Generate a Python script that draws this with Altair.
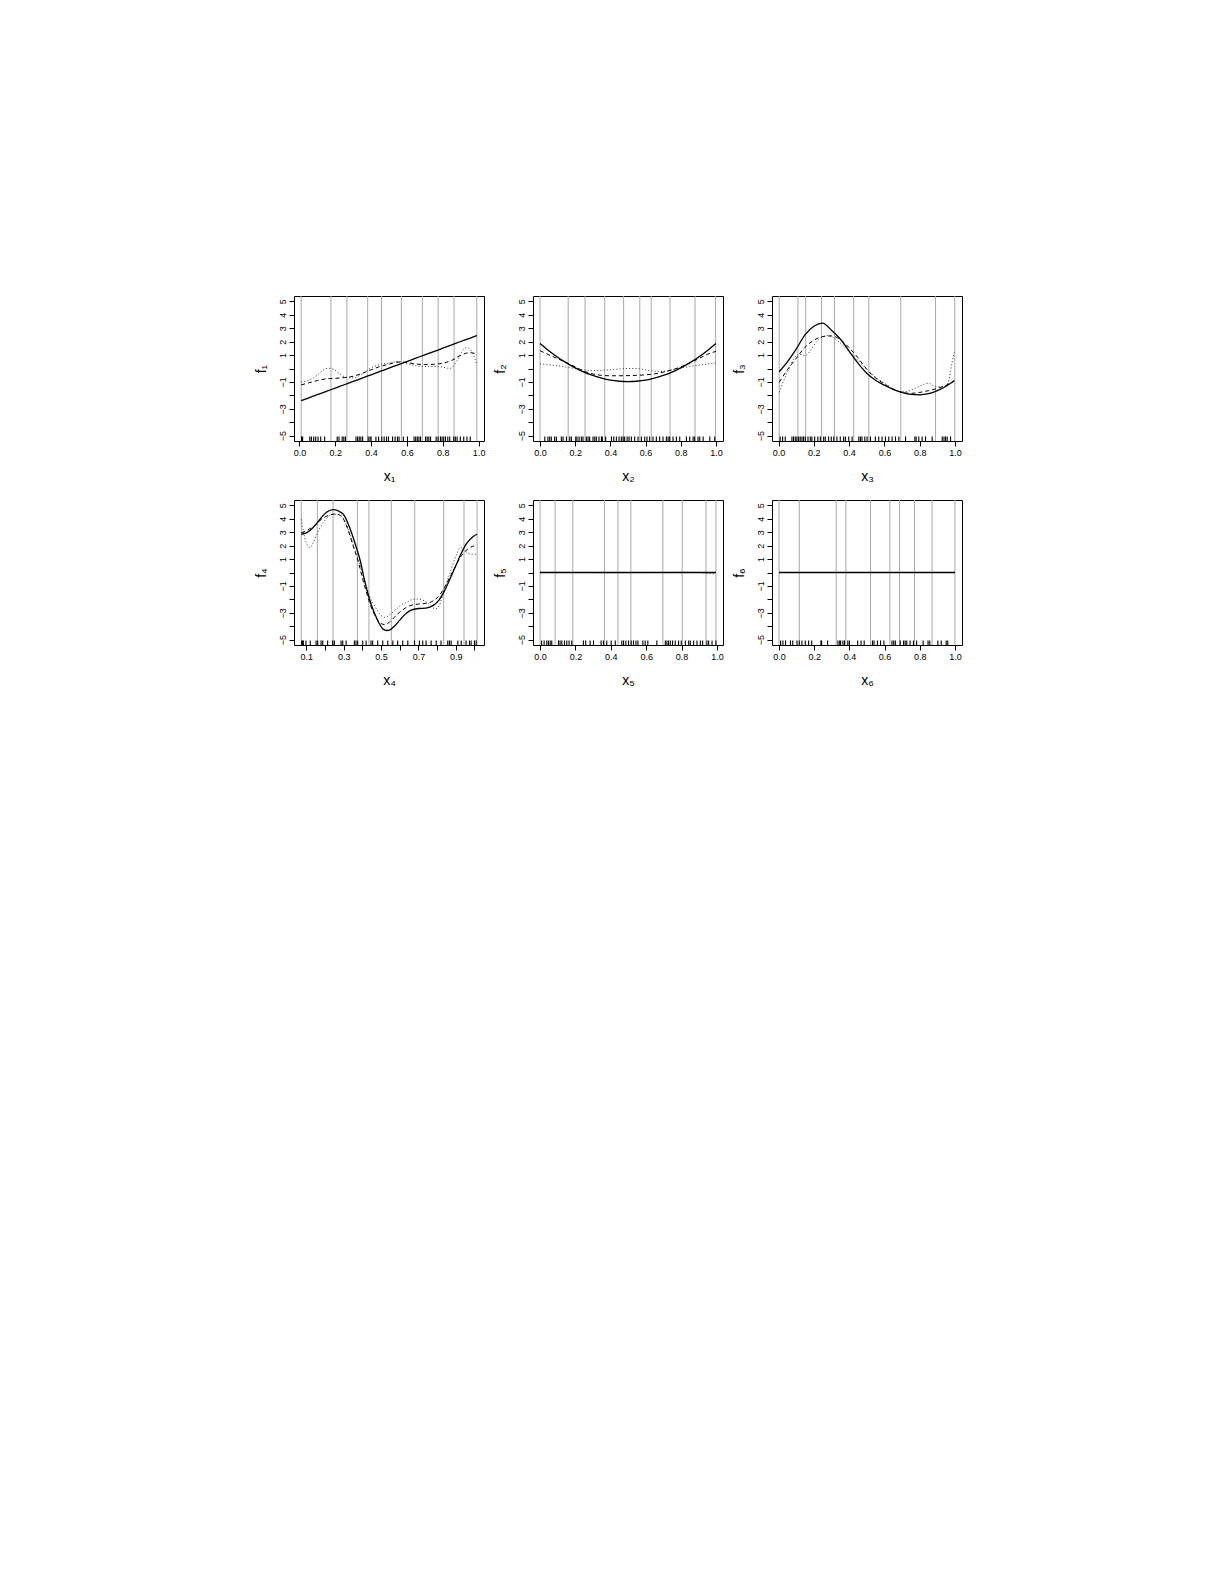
import altair as alt
import pandas as pd

# ---------------- data ----------------
# grey vertical lines (knots) per panel
knots1 = [0.01, 0.176, 0.265, 0.381, 0.458, 0.569, 0.686, 0.774, 0.863, 0.99]
knots2 = [0.0, 0.16, 0.256, 0.368, 0.475, 0.567, 0.632, 0.739, 0.881, 0.997]
knots3 = [0.004, 0.11, 0.154, 0.244, 0.317, 0.426, 0.512, 0.693, 0.89, 0.999]
knots4 = [0.073, 0.159, 0.243, 0.373, 0.435, 0.555, 0.68, 0.835, 0.944, 1.014]
knots5 = [0.0, 0.085, 0.185, 0.364, 0.44, 0.513, 0.694, 0.804, 0.938, 0.994]
knots6 = [0.0, 0.115, 0.325, 0.38, 0.52, 0.63, 0.685, 0.77, 0.87, 1.0]

# rug (observed covariate values)
rug1 = [0.012, 0.018, 0.058, 0.067, 0.08, 0.091, 0.104, 0.119, 0.141, 0.211, 0.221, 0.239, 0.248,
        0.257, 0.316, 0.325, 0.334, 0.343, 0.353, 0.384, 0.394, 0.4, 0.427, 0.442, 0.46, 0.473,
        0.486, 0.497, 0.52, 0.534, 0.547, 0.556, 0.58, 0.603, 0.64, 0.649, 0.658, 0.667, 0.676,
        0.704, 0.713, 0.722, 0.732, 0.763, 0.774, 0.787, 0.796, 0.805, 0.815, 0.828, 0.839,
        0.861, 0.87, 0.88, 0.898, 0.917, 0.935, 0.953]
rug2 = [0.027, 0.045, 0.055, 0.064, 0.083, 0.093, 0.121, 0.131, 0.15, 0.169, 0.178, 0.203, 0.21,
        0.222, 0.235, 0.244, 0.263, 0.273, 0.282, 0.301, 0.311, 0.32, 0.335, 0.349, 0.354, 0.373,
        0.406, 0.419, 0.434, 0.449, 0.462, 0.472, 0.481, 0.495, 0.506, 0.519, 0.538, 0.557,
        0.576, 0.595, 0.608, 0.623, 0.642, 0.661, 0.68, 0.699, 0.718, 0.728, 0.737, 0.756,
        0.775, 0.794, 0.832, 0.851, 0.87, 0.879, 0.898, 0.908, 0.927, 0.965, 0.993]
rug3 = [0.009, 0.023, 0.038, 0.076, 0.085, 0.095, 0.104, 0.114, 0.123, 0.133, 0.142, 0.152, 0.167,
        0.18, 0.189, 0.205, 0.223, 0.237, 0.256, 0.265, 0.284, 0.299, 0.313, 0.331, 0.35, 0.369,
        0.379, 0.398, 0.417, 0.455, 0.464, 0.473, 0.489, 0.502, 0.521, 0.549, 0.568, 0.587,
        0.606, 0.625, 0.644, 0.663, 0.682, 0.72, 0.773, 0.78, 0.795, 0.814, 0.833, 0.871,
        0.928, 0.938, 0.947, 0.956, 0.975]
rug4 = [0.075, 0.08, 0.084, 0.098, 0.121, 0.152, 0.161, 0.179, 0.188, 0.214, 0.241, 0.25, 0.286,
        0.295, 0.313, 0.357, 0.366, 0.375, 0.402, 0.42, 0.446, 0.455, 0.482, 0.509, 0.536,
        0.563, 0.589, 0.616, 0.643, 0.679, 0.705, 0.723, 0.741, 0.768, 0.795, 0.821, 0.857,
        0.866, 0.875, 0.911, 0.929, 0.955, 0.973, 0.982, 1.0, 1.009]
rug5 = [0.009, 0.023, 0.038, 0.047, 0.057, 0.066, 0.104, 0.113, 0.123, 0.138, 0.151, 0.164, 0.179,
        0.245, 0.258, 0.283, 0.302, 0.345, 0.358, 0.377, 0.402, 0.425, 0.462, 0.472, 0.485, 0.5,
        0.515, 0.528, 0.542, 0.553, 0.581, 0.594, 0.609, 0.66, 0.708, 0.717, 0.726, 0.736,
        0.749, 0.764, 0.783, 0.798, 0.821, 0.84, 0.849, 0.868, 0.887, 0.906, 0.919, 0.943,
        0.953, 0.972, 0.994]
rug6 = [0.009, 0.022, 0.037, 0.065, 0.078, 0.102, 0.115, 0.13, 0.149, 0.168, 0.186, 0.238, 0.242,
        0.276, 0.335, 0.345, 0.35, 0.363, 0.372, 0.391, 0.4, 0.447, 0.466, 0.484, 0.531, 0.54,
        0.559, 0.577, 0.596, 0.642, 0.652, 0.661, 0.689, 0.708, 0.717, 0.726, 0.745, 0.764,
        0.782, 0.819, 0.847, 0.857, 0.903, 0.922, 0.95, 0.959]

# curves: true function (solid), estimate A (dashed), estimate B (dotted)
grid1 = [0.01, 0.05, 0.10, 0.15, 0.20, 0.25, 0.30, 0.35, 0.40, 0.45, 0.50, 0.55, 0.60, 0.65,
         0.70, 0.75, 0.80, 0.85, 0.90, 0.95, 0.99]
true1 = [-2.40, -2.20, -1.95, -1.71, -1.46, -1.21, -0.96, -0.72, -0.47, -0.22, 0.03, 0.27, 0.52,
         0.77, 1.02, 1.26, 1.51, 1.76, 2.01, 2.25, 2.45]
dash1 = [-1.22, -1.08, -0.90, -0.77, -0.73, -0.68, -0.58, -0.36, -0.10, 0.15, 0.32, 0.48, 0.45,
         0.33, 0.30, 0.31, 0.40, 0.60, 0.98, 1.18, 1.08]
dot1_x = [0.01, 0.05, 0.10, 0.13, 0.16, 0.19, 0.22, 0.25, 0.30, 0.35, 0.40, 0.45, 0.50, 0.55,
          0.60, 0.65, 0.70, 0.75, 0.80, 0.84, 0.88, 0.91, 0.93, 0.96, 0.99]
dot1 = [-1.00, -0.90, -0.50, -0.15, 0.02, -0.05, -0.35, -0.60, -0.70, -0.40, 0.05, 0.30, 0.40,
        0.52, 0.38, 0.20, 0.15, 0.15, 0.10, 0.00, 0.60, 1.30, 1.55, 1.30, 0.30]

grid2 = [0.0, 0.05, 0.10, 0.15, 0.20, 0.25, 0.30, 0.35, 0.40, 0.45, 0.50, 0.55, 0.60, 0.65,
         0.70, 0.75, 0.80, 0.85, 0.90, 0.95, 1.0]
true2 = [1.87, 1.33, 0.84, 0.42, 0.05, -0.27, -0.52, -0.72, -0.87, -0.95, -0.98, -0.95, -0.87,
         -0.72, -0.52, -0.27, 0.05, 0.42, 0.84, 1.33, 1.87]
dash2 = [1.33, 1.02, 0.73, 0.43, 0.12, -0.20, -0.40, -0.51, -0.54, -0.54, -0.53, -0.51, -0.47,
         -0.40, -0.27, -0.10, 0.12, 0.40, 0.72, 1.05, 1.28]
dot2 = [0.33, 0.28, 0.20, 0.10, 0.00, -0.10, -0.16, -0.14, -0.09, -0.04, 0.00, 0.00, -0.10,
        -0.20, -0.22, -0.10, 0.05, 0.15, 0.25, 0.33, 0.42]

grid3 = [0.004, 0.05, 0.10, 0.15, 0.20, 0.25, 0.30, 0.35, 0.40, 0.45, 0.50, 0.55, 0.60, 0.65,
         0.70, 0.75, 0.80, 0.85, 0.90, 0.95, 0.996]
true3 = [-0.24, 0.50, 1.45, 2.50, 3.15, 3.38, 2.85, 2.20, 1.30, 0.40, -0.35, -0.88, -1.25, -1.55,
         -1.78, -1.93, -1.96, -1.88, -1.65, -1.32, -0.91]
dash3 = [-1.03, -0.10, 0.75, 1.58, 2.10, 2.38, 2.43, 2.15, 1.55, 0.80, -0.05, -0.70, -1.15, -1.55,
         -1.78, -1.85, -1.78, -1.65, -1.48, -1.25, -0.91]
dot3_x = [0.004, 0.03, 0.06, 0.09, 0.12, 0.15, 0.18, 0.21, 0.25, 0.28, 0.31, 0.35, 0.40, 0.45,
          0.50, 0.55, 0.60, 0.65, 0.69, 0.73, 0.77, 0.81, 0.85, 0.89, 0.93, 0.96, 0.98, 0.996]
dot3 = [-1.77, -0.90, 0.00, 0.80, 1.05, 0.95, 1.30, 1.90, 2.35, 2.45, 2.30, 1.90, 1.25, 0.60,
        -0.05, -0.65, -1.10, -1.50, -1.72, -1.70, -1.50, -1.25, -1.10, -1.35, -1.35, -1.10, 0.20, 1.20]

true4_x = [0.073, 0.10, 0.127, 0.155, 0.18, 0.21, 0.243, 0.27, 0.305, 0.33, 0.36, 0.39, 0.41, 0.43,
           0.45, 0.47, 0.49, 0.51, 0.53, 0.55, 0.575, 0.60, 0.63, 0.66, 0.70, 0.74, 0.78, 0.81,
           0.84, 0.87, 0.90, 0.93, 0.96, 0.99, 1.014]
true4 = [2.85, 2.95, 3.22, 3.65, 4.08, 4.50, 4.68, 4.60, 4.20, 3.40, 2.20, 0.80, -0.50, -1.60,
         -2.50, -3.20, -3.80, -4.20, -4.32, -4.25, -3.95, -3.55, -3.10, -2.80, -2.68, -2.65, -2.45,
         -2.05, -1.35, -0.45, 0.50, 1.45, 2.20, 2.65, 2.85]
dash4_x = [0.073, 0.10, 0.127, 0.155, 0.18, 0.21, 0.237, 0.26, 0.29, 0.32, 0.35, 0.38, 0.40, 0.42,
           0.44, 0.46, 0.48, 0.50, 0.52, 0.545, 0.57, 0.60, 0.63, 0.66, 0.70, 0.74, 0.78, 0.81,
           0.84, 0.87, 0.90, 0.93, 0.96, 0.99, 1.014]
dash4 = [2.97, 3.10, 3.34, 3.60, 3.96, 4.20, 4.33, 4.35, 4.15, 3.30, 2.00, 0.70, -0.40, -1.40,
         -2.30, -3.00, -3.50, -3.80, -3.88, -3.70, -3.35, -2.95, -2.65, -2.45, -2.35, -2.30, -2.10,
         -1.75, -1.10, -0.30, 0.50, 1.25, 1.70, 1.95, 2.05]
dot4_x = [0.073, 0.085, 0.10, 0.12, 0.14, 0.16, 0.19, 0.22, 0.25, 0.28, 0.31, 0.34, 0.36, 0.39,
          0.415, 0.44, 0.47, 0.50, 0.52, 0.55, 0.58, 0.61, 0.64, 0.67, 0.70, 0.73, 0.76, 0.79,
          0.81, 0.84, 0.87, 0.90, 0.925, 0.95, 0.98, 1.014]
dot4 = [3.96, 3.00, 2.20, 1.86, 2.30, 2.97, 3.70, 4.20, 4.35, 4.30, 3.71, 2.60, 1.73, 0.40, -0.74,
        -1.80, -2.60, -3.20, -3.34, -3.10, -2.75, -2.40, -2.20, -2.00, -1.98, -2.10, -2.40, -2.72,
        -2.50, -1.20, 0.00, 1.20, 1.86, 1.60, 1.36, 1.36]

true5_x = [0.0, 0.994]
true5 = [0.0, 0.0]
dash5_x = [0.0, 0.994]
dash5 = [0.0, 0.0]
dot5_x = [0.0, 0.2, 0.4, 0.6, 0.8, 0.9, 0.95, 0.994]
dot5 = [0.02, 0.0, -0.02, 0.0, 0.02, 0.0, -0.08, -0.1]

true6_x = [0.0, 1.0]
true6 = [0.0, 0.0]
dash6_x = [0.0, 1.0]
dash6 = [0.0, 0.0]
dot6_x = [0.0, 1.0]
dot6 = [0.0, 0.0]

xticks_unit = [0.0, 0.2, 0.4, 0.6, 0.8, 1.0]
xticks_x4 = [0.1, 0.2, 0.3, 0.4, 0.5, 0.6, 0.7, 0.8, 0.9, 1.0]
yticks = [-5, -4, -3, -2, -1, 0, 1, 2, 3, 4, 5]

SUB = {1: "\u2081", 2: "\u2082", 3: "\u2083", 4: "\u2084", 5: "\u2085", 6: "\u2086"}

W, H = 190, 145
YDOM = [-5.4, 5.4]
FONT = "Liberation Sans"

y_label_expr = ("(datum.value == 0 || datum.value == -2 || datum.value == -4) ? '' : "
                "(datum.value < 0 ? '\u2212' + abs(datum.value) : '' + datum.value)")
x_label_expr = "format(datum.value, '.1f')"
x4_label_expr = "(round(datum.value * 10) % 2 == 1) ? format(datum.value, '.1f') : ''"


def panel(k, xdom, xticks, knots, rug, tx, ty, dx, dy, ox, oy, xlabel_expr=x_label_expr):
    xs = alt.Scale(domain=xdom, nice=False, zero=False)
    ys = alt.Scale(domain=YDOM, nice=False, zero=False)
    xaxis = alt.Axis(values=xticks, labelExpr=xlabel_expr, title="x" + SUB[k],
                     labelOverlap=False, labelFlush=False)
    yaxis = alt.Axis(values=yticks, labelExpr=y_label_expr, title="f" + SUB[k],
                     labelOverlap=False, labelFlush=False)

    def X(f="x:Q"):
        return alt.X(f, scale=xs, axis=xaxis)

    def Y(f="y:Q"):
        return alt.Y(f, scale=ys, axis=yaxis)

    knot_layer = alt.Chart(pd.DataFrame({"x": knots})).mark_rule(
        color="#a9a9a9", strokeWidth=1).encode(x=X())
    rug_layer = alt.Chart(pd.DataFrame({"x": rug})).mark_rule(
        color="black", strokeWidth=1.1).encode(
        x=X(), y=alt.YDatum(-5.4, scale=ys, axis=yaxis), y2=alt.datum(-5.06))
    dot_layer = alt.Chart(pd.DataFrame({"x": ox, "y": oy})).mark_line(
        color="#333333", strokeWidth=1, strokeDash=[1, 2.2], interpolate="monotone").encode(
        x=X(), y=Y())
    dash_layer = alt.Chart(pd.DataFrame({"x": dx, "y": dy})).mark_line(
        color="black", strokeWidth=1, strokeDash=[4, 3], interpolate="monotone").encode(
        x=X(), y=Y())
    true_layer = alt.Chart(pd.DataFrame({"x": tx, "y": ty})).mark_line(
        color="black", strokeWidth=1.3, interpolate="monotone").encode(
        x=X(), y=Y())
    return alt.layer(knot_layer, rug_layer, dot_layer, dash_layer, true_layer).properties(
        width=W, height=H)


p1 = panel(1, [-0.03, 1.03], xticks_unit, knots1, rug1, grid1, true1, grid1, dash1, dot1_x, dot1)
p2 = panel(2, [-0.04, 1.04], xticks_unit, knots2, rug2, grid2, true2, grid2, dash2, grid2, dot2)
p3 = panel(3, [-0.037, 1.04], xticks_unit, knots3, rug3, grid3, true3, grid3, dash3, dot3_x, dot3)
p4 = panel(4, [0.034, 1.051], xticks_x4, knots4, rug4, true4_x, true4, dash4_x, dash4, dot4_x, dot4,
           xlabel_expr=x4_label_expr)
p5 = panel(5, [-0.04, 1.034], xticks_unit, knots5, rug5, true5_x, true5, dash5_x, dash5, dot5_x, dot5)
p6 = panel(6, [-0.04, 1.04], xticks_unit, knots6, rug6, true6_x, true6, dash6_x, dash6, dot6_x, dot6)

chart = alt.concat(
    p1, p2, p3, p4, p5, p6, columns=3, bounds="flush",
    spacing={"row": 59, "column": 49},
).properties(
    padding={"left": 245, "top": 287, "right": 20, "bottom": 20},
    background="white",
).configure_view(
    stroke="black", strokeWidth=1, fill=None
).configure_axis(
    grid=False, domain=False, ticks=True, tickSize=5, tickColor="black", tickWidth=1,
    labelColor="black", labelFont=FONT, labelFontSize=9, labelPadding=2,
    labelOverlap=False, labelFlush=False,
    titleColor="black", titleFont=FONT, titleFontSize=14, titleFontWeight="normal",
).configure_axisX(
    titlePadding=12,
).configure_axisY(
    labelAngle=-90, labelAlign="center", labelBaseline="bottom", titlePadding=10,
)

chart.save("out.html", embed_options={"renderer": "svg", "actions": False})
